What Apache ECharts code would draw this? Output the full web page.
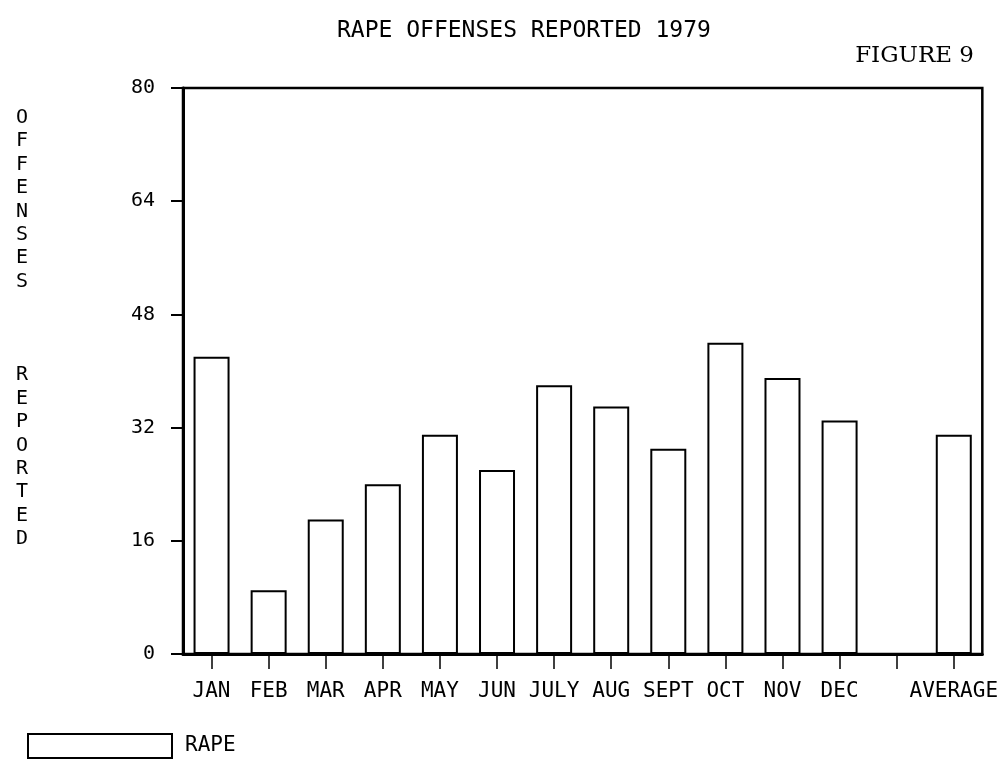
<!DOCTYPE html>
<html>
<head>
<meta charset="utf-8">
<script src="https://cdn.jsdelivr.net/npm/echarts@6/dist/echarts.min.js"></script>
<style>
html,body{margin:0;padding:0;background:#fff;}
#main{width:1001px;height:760px;}
</style>
</head>
<body>
<div id="main"></div>
<script>
var categories = ['JAN','FEB','MAR','APR','MAY','JUN','JULY','AUG','SEPT','OCT','NOV','DEC','','AVERAGE'];
var rapeValues = [42, 9, 19, 24, 31, 26, 38, 35, 29, 44, 39, 33, null, 31];
var yTicks = [0, 16, 32, 48, 64, 80];
var titleText = 'RAPE OFFENSES REPORTED 1979';
var figureText = 'FIGURE 9';
var yAxisTitle = 'OFFENSES   REPORTED';
var seriesName = 'RAPE';

var plotFont = 'DejaVu Sans Mono';
var chart = echarts.init(document.getElementById('main'), null, {renderer:'canvas'});
chart.setOption({
  backgroundColor: '#fff',
  animation: false,
  title: [{
    text: titleText,
    left: 332, top: 15,
    textStyle: {fontFamily: plotFont, fontSize: 23, fontWeight: 'normal', color: '#000'}
  }, {
    text: figureText,
    right: 22, top: 40,
    textStyle: {fontFamily: 'DejaVu Serif', fontSize: 23, fontWeight: 'normal', color: '#000'}
  }],
  graphic: [{
    type: 'text',
    left: 16, top: 106,
    style: {
      text: yAxisTitle.split('').join('\n'),
      font: '20px "DejaVu Sans Mono"',
      lineHeight: 23.4,
      fill: '#000',
      align: 'center'
    }
  }],
  legend: {
    data: [seriesName],
    left: 22, top: 728,
    icon: 'rect',
    itemWidth: 144, itemHeight: 24, itemGap: 10,
    textStyle: {fontFamily: plotFont, fontSize: 21, color: '#000', padding: [0,0,0,8]}
  },
  grid: {
    left: 183, right: 18, top: 88, bottom: 106,
    show: true, borderColor: '#000', borderWidth: 2.5, backgroundColor: 'transparent'
  },
  xAxis: {
    type: 'category',
    data: categories,
    axisLine: {lineStyle: {color: '#000', width: 3}},
    axisTick: {show: true, alignWithLabel: true, interval: 0, length: 15, lineStyle: {color: '#000', width: 1.5}},
    axisLabel: {interval: 0, margin: 27, fontFamily: plotFont, fontSize: 21, color: '#000'},
    splitLine: {show: false}
  },
  yAxis: {
    type: 'value',
    min: yTicks[0], max: yTicks[yTicks.length-1], interval: 16,
    axisLine: {show: true, lineStyle: {color: '#000', width: 3}},
    axisTick: {show: true, length: 12, lineStyle: {color: '#000', width: 2}},
    axisLabel: {margin: 28, fontFamily: plotFont, fontSize: 20, color: '#000'},
    splitLine: {show: false}
  },
  series: [{
    name: seriesName,
    type: 'bar',
    data: rapeValues,
    barWidth: 36,
    itemStyle: {color: '#fff', borderColor: '#000', borderWidth: 2}
  }]
});
</script>
</body>
</html>
